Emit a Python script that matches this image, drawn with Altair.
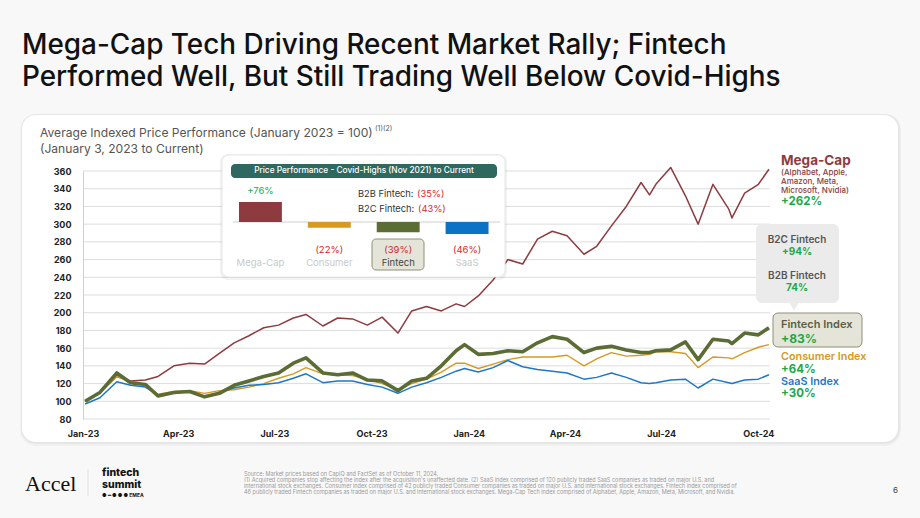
import altair as alt
import pandas as pd

# ---------------- index series (January 2023 = 100) ----------------
dates = [
    "2023-01-03", "2023-01-17", "2023-02-02", "2023-02-15", "2023-03-01", "2023-03-13",
    "2023-03-28", "2023-04-12", "2023-04-26", "2023-05-10", "2023-05-24", "2023-06-07",
    "2023-06-21", "2023-07-05", "2023-07-19", "2023-07-31", "2023-08-16", "2023-08-30",
    "2023-09-13", "2023-09-27", "2023-10-11", "2023-10-26", "2023-11-08", "2023-11-22",
    "2023-12-06", "2023-12-20", "2023-12-28", "2024-01-10", "2024-01-24", "2024-02-07",
    "2024-02-21", "2024-03-06", "2024-03-20", "2024-04-03", "2024-04-19", "2024-05-01",
    "2024-05-15", "2024-05-29", "2024-06-12", "2024-06-20", "2024-06-26", "2024-07-10",
    "2024-07-24", "2024-08-05", "2024-08-19", "2024-09-03", "2024-09-06", "2024-09-18",
    "2024-10-01", "2024-10-11",
]
mega_cap = [100, 110, 128, 123, 124, 128, 140, 143, 142, 154, 166, 174, 183, 186, 194, 198,
            185, 194, 193, 186, 195, 177, 202, 207, 202, 210, 207, 219, 237, 260, 255, 283,
            292, 287, 266, 275, 298, 320, 347, 333, 345, 364, 332, 300, 345, 317, 307, 335,
            345, 362]
consumer = [100, 110, 128, 122, 119, 108, 111, 112, 109, 112, 113, 116, 120, 126, 131, 138,
            131, 130, 129, 125, 120, 113, 120, 125, 133, 143, 143, 137, 142, 147, 150, 150,
            150, 152, 140, 148, 155, 151, 152, 153, 156, 156, 154, 138, 150, 149, 148, 155,
            161, 164]
saas = [97, 104, 122, 118, 116, 107, 110, 111, 105, 110, 115, 118, 119, 121, 126, 131,
        121, 123, 123, 119, 116, 109, 116, 121, 127, 134, 137, 133, 138, 146, 139, 136,
        134, 132, 125, 127, 132, 127, 121, 120, 121, 124, 125, 115, 125, 121, 120, 124,
        125, 130]
fintech = [100, 110, 132, 121, 119, 106, 110, 111, 105, 109, 118, 123, 128, 132, 143, 149,
           132, 130, 132, 124, 123, 112, 123, 126, 140, 157, 164, 153, 154, 157, 156, 166,
           173, 170, 155, 160, 162, 158, 155, 155, 157, 158, 167, 147, 170, 168, 165, 177,
           175, 183]

# ---------------- inset: change since Nov 2021 highs ----------------
inset_categories = ["Mega-Cap", "Consumer", "Fintech", "SaaS"]
inset_changes = [76, -22, -39, -46]
b2b_since_high, b2c_since_high = -35, -43
b2c_since_2023, b2b_since_2023 = 94, 74

y_ticks = list(range(80, 361, 20))
x_ticks = [(2023, 1), (2023, 4), (2023, 7), (2023, 10), (2024, 1), (2024, 4), (2024, 7), (2024, 10)]

FONT = "Inter"
GREEN = "#1ba94c"
RED = "#d8262b"
C_MEGA = "#8e3b40"
C_CONS = "#d69a22"
C_FIN = "#5b6c34"
C_SAAS = "#1f77c8"
PAGE = "#f8f8f8"

W, H = 687, 248          # plot area
OX, OY = 83, 171         # plot origin on the page


def px(x):
    return x - OX


def py(y):
    return y - OY


one = pd.DataFrame({"k": [0]})


def text(s, x, y, size, color, weight=400, align="left", font=FONT):
    return alt.Chart(one).mark_text(
        text=s, align=align, baseline="middle", fontSize=size, color=color,
        fontWeight=weight, font=font,
    ).encode(x=alt.value(px(x)), y=alt.value(py(y)))


def box(x1, y1, x2, y2, fill, stroke=None, radius=0, opacity=1.0, sw=1):
    kw = dict(fill=fill, cornerRadius=radius, opacity=opacity)
    if stroke:
        kw.update(stroke=stroke, strokeWidth=sw)
    return alt.Chart(one).mark_rect(**kw).encode(
        x=alt.value(px(x1)), x2=alt.value(px(x2)), y=alt.value(py(y1)), y2=alt.value(py(y2))
    )


def pct(v):
    return f"+{v}%" if v >= 0 else f"({-v}%)"


# ---------------- main line chart ----------------
series = {"Mega-Cap": mega_cap, "Consumer": consumer, "SaaS": saas, "Fintech": fintech}
long = pd.DataFrame({
    "date": dates * 4,
    "series": sum([[k] * len(dates) for k in series], []),
    "value": sum(series.values(), []),
})

x_scale = alt.Scale(type="utc", domain=[alt.DateTime(year=2023, month=1, date=1, utc=True),
                                        alt.DateTime(year=2024, month=10, date=12, utc=True)])
x_axis = alt.Axis(values=[alt.DateTime(year=y, month=m, date=1, utc=True) for y, m in x_ticks],
                  labelExpr="utcFormat(datum.value, '%b-%y')", grid=False, ticks=False, domain=False,
                  labelFont=FONT, labelFontSize=9, labelFontWeight="bold", labelColor="#222",
                  labelPadding=10, labelFlush=False, labelOverlap=False, title=None, zindex=1)
y_axis = alt.Axis(values=y_ticks, grid=False, ticks=False, domainColor="#cfcfcf",
                  labelFont=FONT, labelFontSize=9, labelFontWeight="bold", labelColor="#222",
                  labelPadding=12, title=None, zindex=1)
y_scale = alt.Scale(domain=[80, 360], nice=False, zero=False)

# horizontal guides on the index scale
grid = alt.Chart(pd.DataFrame({"v": y_ticks})).mark_rule(color="#dddddd", strokeWidth=1).encode(
    y=alt.Y("v:Q", scale=y_scale, axis=y_axis)
)


def line(name, color, width, with_axis=False):
    return alt.Chart(long).transform_filter(alt.datum.series == name).mark_line(
        color=color, strokeWidth=width, strokeJoin="round"
    ).encode(
        x=alt.X("date:T", scale=x_scale, axis=x_axis if with_axis else None),
        y=alt.Y("value:Q", scale=y_scale, axis=None),
    )


lines = [
    line("Mega-Cap", C_MEGA, 1.5, with_axis=True),
    line("Consumer", C_CONS, 1.4),
    line("SaaS", C_SAAS, 1.5),
    line("Fintech", C_FIN, 3.6),
]

# ---------------- inset bar chart ----------------
inset_df = pd.DataFrame({"cat": inset_categories, "val": inset_changes})
inset_df["lbl"] = [pct(v) for v in inset_changes]

base_y = py(222)
k = 0.263
ix = alt.X("cat:N", sort=inset_categories,
           scale=alt.Scale(domain=inset_categories, range=[px(226), px(501.5)],
                           paddingInner=0.377, paddingOuter=0.1885),
           axis=None)
iy = alt.Y("val:Q", scale=alt.Scale(domain=[-50, 80], range=[base_y + 50 * k, base_y - 80 * k],
                                    nice=False, zero=False), axis=None)

ibase = alt.Chart(inset_df)
inset_bars = ibase.mark_bar().encode(
    x=ix, y=iy, y2=alt.datum(0),
    color=alt.Color("cat:N", scale=alt.Scale(domain=inset_categories,
                                             range=[C_MEGA, C_CONS, C_FIN, "#0b72c4"]), legend=None),
)
inset_pos = ibase.transform_filter("datum.val > 0").mark_text(
    dy=-11, fontSize=9.5, font=FONT, color=GREEN, baseline="middle").encode(x=ix, y=iy, text="lbl:N")
inset_neg = ibase.transform_filter("datum.val < 0").mark_text(
    fontSize=9.5, font=FONT, color=RED, baseline="middle").encode(
    x=ix, y=alt.value(py(250)), text="lbl:N")
inset_names = ibase.mark_text(fontSize=9.5, font=FONT, baseline="middle").encode(
    x=ix, y=alt.value(py(263)), text="cat:N",
    color=alt.condition(alt.datum.cat == "Fintech", alt.value("#444444"), alt.value("#c9c9c9")),
)
inset_rule = box(233, 221.5, 500, 222.5, "#d0d0d0")
inset = [inset_rule, inset_bars, inset_pos, inset_neg, inset_names]

# ---------------- page decoration ----------------
card = [
    box(20, 114, 901, 446, "#000000", radius=16, opacity=0.03),
    box(21, 114, 900, 444, "#000000", radius=15, opacity=0.04),
    box(22, 115, 898, 442, "#ffffff", radius=14),
]
inset_frame = [
    box(220, 154, 507, 280, "#000000", radius=8, opacity=0.05),
    box(222, 155, 505, 277, "#ffffff", stroke="#e6e6e6", radius=7),
    box(231, 164, 497, 178, "#2e685e", radius=4),
    text("Price Performance - Covid-Highs (Nov 2021) to Current", 364, 171, 8.3, "#ffffff", 500, "center"),
    text("B2B Fintech:", 358, 194, 9.3, "#333333"),
    text(pct(b2b_since_high), 417, 194, 9.3, RED),
    text("B2C Fintech:", 358, 209, 9.3, "#333333"),
    text(pct(b2c_since_high), 418, 209, 9.3, RED),
    box(372, 239, 424, 270, "#e4e5d8", stroke="#8e8f78", radius=4),
]

headline = [
    text("Mega-Cap Tech Driving Recent Market Rally; Fintech", 22, 46, 27.9, "#111111", 500),
    text("Performed Well, But Still Trading Well Below Covid-Highs", 22, 78, 27.9, "#111111", 500),
    text("Average Indexed Price Performance (January 2023 = 100)", 40, 133, 12.1, "#555555"),
    text("(1)(2)", 375, 129, 7, "#555555"),
    text("(January 3, 2023 to Current)", 40, 149, 12.1, "#555555"),
]

pointer = alt.Chart(one).mark_point(shape="triangle-down", filled=True, size=110,
                                    color="#ebebeb", opacity=1).encode(
    x=alt.value(px(794)), y=alt.value(py(306)))

right_notes = [
    text("Mega-Cap", 781, 161, 13.5, C_MEGA, 700),
    text("(Alphabet, Apple,", 781, 173, 8, C_MEGA, 500),
    text("Amazon, Meta,", 781, 182, 8, C_MEGA, 500),
    text("Microsoft, Nvidia)", 781, 191, 8, C_MEGA, 500),
    text(pct(mega_cap[-1] - 100), 781, 202, 11.5, GREEN, 700),
    box(756, 224, 839, 303, "#ebebeb", radius=6),
    pointer,
    text("B2C Fintech", 797, 240, 10, "#555555", 600, "center"),
    text(pct(b2c_since_2023), 797, 252, 10, GREEN, 700, "center"),
    text("B2B Fintech", 797, 276, 10, "#555555", 600, "center"),
    text(f"{b2b_since_2023}%", 797, 288, 10, GREEN, 700, "center"),
    box(773, 313, 862, 347, "#e4e5d8", stroke="#8e8f78", radius=5),
    text("Fintech Index", 781, 325, 11, "#5c5f45", 600),
    text(pct(fintech[-1] - 100), 781, 339, 12, GREEN, 700),
    text("Consumer Index", 781, 357, 10.8, C_CONS, 600),
    text(pct(consumer[-1] - 100), 781, 369.5, 11.5, GREEN, 700),
    text("SaaS Index", 781, 381.5, 10.8, C_SAAS, 600),
    text(pct(saas[-1] - 100), 781, 394, 11.5, GREEN, 700),
]

source_lines = [
    "Source: Market prices based on CapIQ and FactSet as of October 11, 2024.",
    "(1) Acquired companies stop affecting the index after the acquisition's unaffected date.  (2) SaaS index comprised of 120 publicly traded SaaS companies as traded on major U.S. and",
    "international stock exchanges. Consumer index comprised of 42 publicly traded Consumer companies as traded on major U.S. and international stock exchanges. Fintech index comprised of",
    "46 publicly traded Fintech companies as traded on major U.S. and international stock exchanges. Mega-Cap Tech index comprised of  Alphabet, Apple, Amazon, Meta, Microsoft, and Nvidia.",
]
footer = [
    text("Accel", 25, 484, 22, "#111111", 400, font="Liberation Serif"),
    box(87.5, 469, 88.5, 496, "#dddddd"),
    text("fintech", 102, 473, 10.5, "#111111", 800),
    text("summit", 102, 485, 10.5, "#111111", 800),
    text("● ━ ● ● ●  EMEA", 102, 494.5, 5, "#111111", 700),
    text("6", 893, 491, 8, "#444444"),
] + [text(s, 244, 474 + 6 * i, 5.5, "#9a9a9a") for i, s in enumerate(source_lines)]

chart = alt.layer(
    *card, *headline, grid, *lines, *inset_frame, *inset, *right_notes, *footer
).resolve_scale(x="independent", y="independent").properties(
    width=W, height=H, background=PAGE,
    padding={"left": OX, "top": OY, "right": 920 - OX - W, "bottom": 518 - OY - H},
    autosize=alt.AutoSizeParams(type="none"),
).configure_view(stroke=None)

chart.save("out.html", embed_options={"renderer": "svg", "actions": False})
